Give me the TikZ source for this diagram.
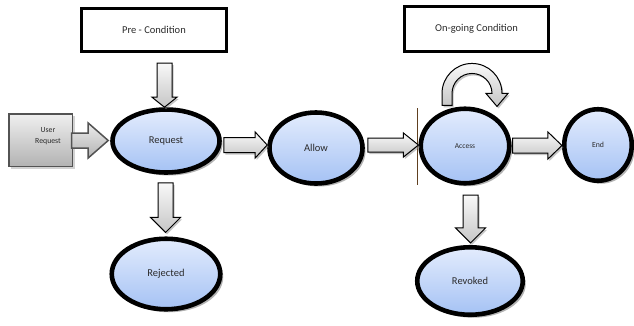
\documentclass[tikz,border=0pt]{standalone}
\usepackage{fontspec}
\setmainfont{Carlito}
\usetikzlibrary{calc,shadows,shapes.geometric}
\definecolor{ellTop}{HTML}{E3ECFD}
\definecolor{ellBot}{HTML}{A5C2F4}
\definecolor{txt}{HTML}{2B2B2B}
\newcommand\blockh[6][barrow]{\draw[#1] let \p1=#2, \p2=#3 in
  (\x1,\y1+#4) -- (\x2-#6,\y1+#4) -- (\x2-#6,\y1+#5) -- (\x2,\y1) --
  (\x2-#6,\y1-#5) -- (\x2-#6,\y1-#4) -- (\x1,\y1-#4) -- cycle;}
\newcommand\blockv[6][barrow]{\draw[#1] let \p1=#2, \p2=#3 in
  (\x1+#4,\y1) -- (\x1+#4,\y2+#6) -- (\x1+#5,\y2+#6) -- (\x1,\y2) --
  (\x1-#5,\y2+#6) -- (\x1-#4,\y2+#6) -- (\x1-#4,\y1) -- cycle;}
\begin{document}
\begin{tikzpicture}[x=1pt,y=-1pt,
  state/.style={ellipse, draw=black, line width=4.6pt, top color=ellTop, bottom color=ellBot,
    inner sep=0pt, outer sep=2.3pt, text=txt, font=\fontsize{10.5}{12}\selectfont,
    drop shadow={shadow xshift=3pt, shadow yshift=-3pt, fill=black!55, opacity=.55}},
  cond/.style={draw=black, line width=3pt, fill=white, inner sep=0pt, text=txt,
    font=\fontsize{10.5}{12}\selectfont,
    drop shadow={shadow xshift=1.5pt, shadow yshift=-1.5pt, fill=black!40, opacity=.5}},
  userbox/.style={draw=gray!65!black, line width=1.5pt, top color=gray!12, bottom color=gray!60,
    inner sep=0pt, drop shadow={shadow xshift=2.5pt, shadow yshift=-2.5pt, fill=black!35, opacity=.5}},
  barrow/.style={draw=black, line width=1pt, top color=gray!5, bottom color=gray!45,
    drop shadow={shadow xshift=1.5pt, shadow yshift=-2pt, fill=black!45, opacity=.5}},
  uarrow/.style={draw=gray!65!black, line width=1.5pt, top color=gray!15, bottom color=gray!60},
  small/.style={text=txt, font=\fontsize{7.8}{11}\selectfont, inner sep=0pt, align=center}
]
\useasboundingbox (0,0) rectangle (634,325);

% condition boxes
\node[cond, minimum width=145pt, minimum height=43pt] (pre) at (154,30) {\raisebox{-2pt}{Pre - Condition}};
\node[cond, minimum width=144pt, minimum height=45pt] (ongo) at (476.5,29) {On-going Condition};

% user request
\node[userbox, minimum width=63.5pt, minimum height=52.5pt] (user) at (40.5,140) {};
\node[small] (userlbl) at ($(user.center)+(7.5,-4)$) {User\\Request};

% states
\node[state, minimum width=107pt, minimum height=63pt] (req) at (166,141) {Request};
\node[state, minimum width=93pt, minimum height=71pt] (allow) at (316,148) {Allow};
\node[state, minimum width=88.5pt, minimum height=74.5pt, font=\fontsize{7.5}{9}\selectfont] (access) at (465,146) {Access};
\node[state, minimum width=67.5pt, minimum height=71.5pt, font=\fontsize{7.8}{9}\selectfont] (end) at (598,145) {End};
\node[state, minimum width=108.5pt, minimum height=70.5pt] (rej) at (166,274) {Rejected};
\node[state, minimum width=105.5pt, minimum height=67.5pt] (rev) at (470,281) {Revoked};

% thin vertical line left of Access
\draw[line width=0.6pt, black!50!brown] ($(access.west)+(-1,-38)$) -- ($(access.west)+(-1,39)$);

% block arrows
\blockv{($(pre.south)+(10.5,10)$)}{(req.north)}{7.5pt}{12.5pt}{10pt}
\blockh[uarrow]{($(user.east)+(-1.5,0.5)$)}{($(req.west)+(-2,0)$)}{7.5pt}{17.5pt}{20pt}
\blockh{($(req.east)+(2,4)$)}{(allow.west)}{7.5pt}{13pt}{12pt}
\blockh{($(allow.east)+(3,-3)$)}{(access.west)}{7pt}{12pt}{15pt}
\blockh{($(access.east)+(1,-0.5)$)}{(end.west)}{7.5pt}{13.5pt}{14pt}
\blockv{($(req.south)+(-0.5,8)$)}{($(rej.north)+(0,-4)$)}{7.5pt}{15pt}{15pt}
\blockv{($(access.south)+(5.5,9.5)$)}{($(rev.north)+(0,-2)$)}{7.5pt}{15pt}{15pt}

% loop arrow above Access
\begin{scope}[shift={(access.north)}]
  \draw[barrow] (-23,-1) -- (-23,-13) arc[start angle=180,end angle=0,radius=30pt]
    -- (43,-13) -- (32,0) -- (21,-13) -- (27,-13)
    arc[start angle=0,end angle=180,radius=20pt] -- (-13,-1) -- cycle;
\end{scope}
\end{tikzpicture}
\end{document}
